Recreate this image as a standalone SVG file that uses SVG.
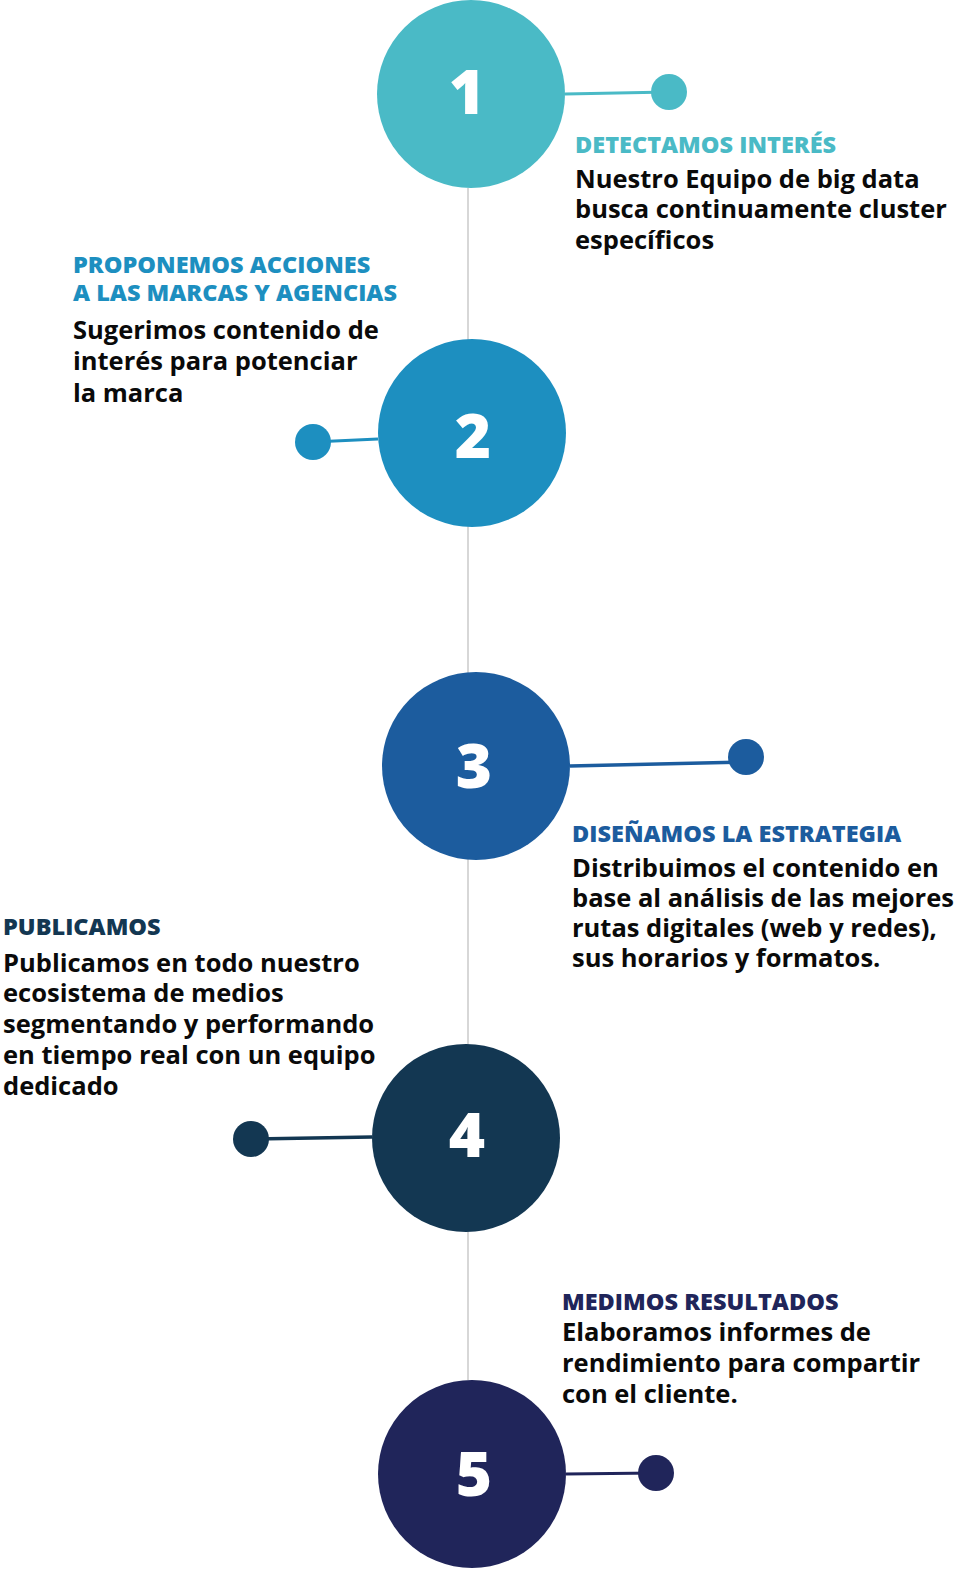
<svg xmlns="http://www.w3.org/2000/svg" width="961" height="1594" viewBox="0 0 961 1594">
<style>
.hd{font-family:"Open Sans","Noto Sans",sans-serif;font-weight:800;font-size:23.5px}
.bd{font-family:"Open Sans","Noto Sans",sans-serif;font-weight:700;font-size:25.5px;fill:#0a0a0a}
.num{font-family:"Open Sans","Noto Sans",sans-serif;font-weight:800;font-size:62px;fill:#ffffff;text-anchor:middle}
.c1{fill:#4ABAC6}.c2{fill:#1D8FC0}.c3{fill:#1C5C9E}.c4{fill:#133752}.c5{fill:#20255A}
</style>
<rect width="961" height="1594" fill="#ffffff"/>
<g id="connectors">
<line x1="468" y1="188" x2="468" y2="1380" stroke="#bdbdbd" stroke-width="1.2"/>
<line x1="565" y1="94" x2="669" y2="92" stroke="#4ABAC6" stroke-width="3"/>
<line x1="313" y1="442" x2="378" y2="439" stroke="#1D8FC0" stroke-width="3"/>
<line x1="570" y1="766" x2="746" y2="762" stroke="#1C5C9E" stroke-width="3.5"/>
<line x1="251" y1="1139" x2="372" y2="1137" stroke="#133752" stroke-width="3.5"/>
<line x1="566" y1="1474" x2="656" y2="1473" stroke="#20255A" stroke-width="3"/>
</g>
<g id="step1">
<circle cx="471" cy="94" r="94" class="c1"/>
<circle cx="669" cy="92" r="18" class="c1"/>
<text x="467" y="114" class="num">1</text>
<text x="575" y="153" class="hd c1">DETECTAMOS INTERÉS</text>
<text class="bd"><tspan x="575" y="188">Nuestro Equipo de big data</tspan><tspan x="575" y="218">busca continuamente cluster</tspan><tspan x="575" y="249">específicos</tspan></text>
</g>
<g id="step2">
<circle cx="472" cy="433" r="94" class="c2"/>
<circle cx="313" cy="442" r="18" class="c2"/>
<text x="473" y="458" class="num">2</text>
<text x="73" y="273" class="hd c2">PROPONEMOS ACCIONES</text>
<text x="73" y="301" class="hd c2">A LAS MARCAS Y AGENCIAS</text>
<text class="bd"><tspan x="73" y="339">Sugerimos contenido de</tspan><tspan x="73" y="370">interés para potenciar</tspan><tspan x="73" y="402">la marca</tspan></text>
</g>
<g id="step3">
<circle cx="476" cy="766" r="94" class="c3"/>
<circle cx="746" cy="757" r="18" class="c3"/>
<text x="474" y="788" class="num">3</text>
<text x="572" y="842" class="hd c3">DISEÑAMOS LA ESTRATEGIA</text>
<text class="bd"><tspan x="572" y="877">Distribuimos el contenido en</tspan><tspan x="572" y="907">base al análisis de las mejores</tspan><tspan x="572" y="937">rutas digitales (web y redes),</tspan><tspan x="572" y="967">sus horarios y formatos.</tspan></text>
</g>
<g id="step4">
<circle cx="466" cy="1138" r="94" class="c4"/>
<circle cx="251" cy="1139" r="18" class="c4"/>
<text x="467" y="1157" class="num">4</text>
<text x="3" y="935" class="hd c4">PUBLICAMOS</text>
<text class="bd"><tspan x="3" y="972">Publicamos en todo nuestro</tspan><tspan x="3" y="1002">ecosistema de medios</tspan><tspan x="3" y="1033">segmentando y performando</tspan><tspan x="3" y="1064">en tiempo real con un equipo</tspan><tspan x="3" y="1095">dedicado</tspan></text>
</g>
<g id="step5">
<circle cx="472" cy="1474" r="94" class="c5"/>
<circle cx="656" cy="1473" r="18" class="c5"/>
<text x="474" y="1496" class="num">5</text>
<text x="562" y="1310" class="hd c5">MEDIMOS RESULTADOS</text>
<text class="bd"><tspan x="562" y="1341">Elaboramos informes de</tspan><tspan x="562" y="1372">rendimiento para compartir</tspan><tspan x="562" y="1403">con el cliente.</tspan></text>
</g>
</svg>
